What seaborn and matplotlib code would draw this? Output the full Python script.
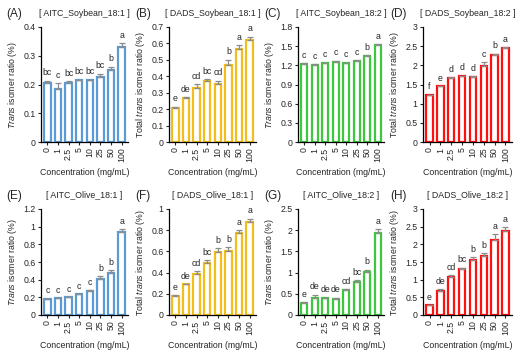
import matplotlib
matplotlib.use('Agg')
import matplotlib.pyplot as plt
import numpy as np
import pandas as pd
import seaborn as sns

conc = ['0', '1', '2.5', '5', '10', '25', '50', '100']

a_mean = [0.205, 0.185, 0.205, 0.215, 0.215, 0.225, 0.252, 0.330]
a_err = [0.008, 0.020, 0.006, 0.002, 0.002, 0.012, 0.010, 0.013]
a_sig = ['bc', 'c', 'bc', 'bc', 'bc', 'bc', 'b', 'a']

b_mean = [0.210, 0.267, 0.330, 0.373, 0.356, 0.467, 0.566, 0.622]
b_err = [0.005, 0.004, 0.022, 0.010, 0.018, 0.035, 0.022, 0.018]
b_sig = ['e', 'de', 'cd', 'bc', 'cd', 'b', 'a', 'a']

c_mean = [1.22, 1.21, 1.23, 1.26, 1.23, 1.27, 1.35, 1.52]
c_err = [0.01, 0.01, 0.01, 0.01, 0.01, 0.01, 0.01, 0.01]
c_sig = ['c', 'c', 'c', 'c', 'c', 'c', 'b', 'a']

d_mean = [1.22, 1.45, 1.67, 1.71, 1.70, 1.98, 2.27, 2.45]
d_err = [0.01, 0.01, 0.02, 0.02, 0.02, 0.10, 0.03, 0.02]
d_sig = ['f', 'e', 'd', 'd', 'd', 'c', 'b', 'a']

e_mean = [0.180, 0.190, 0.200, 0.235, 0.270, 0.410, 0.480, 0.940]
e_err = [0.005, 0.005, 0.005, 0.005, 0.010, 0.030, 0.030, 0.035]
e_sig = ['c', 'c', 'c', 'c', 'c', 'b', 'b', 'a']

f_mean = [0.180, 0.290, 0.390, 0.490, 0.595, 0.605, 0.770, 0.875]
f_err = [0.005, 0.005, 0.025, 0.025, 0.035, 0.035, 0.030, 0.035]
f_sig = ['e', 'de', 'cd', 'bc', 'b', 'b', 'a', 'a']

g_mean = [0.29, 0.41, 0.39, 0.38, 0.60, 0.77, 1.02, 1.93]
g_err = [0.02, 0.07, 0.02, 0.03, 0.02, 0.06, 0.05, 0.09]
g_sig = ['e', 'de', 'de', 'de', 'cd', 'bc', 'b', 'a']

h_mean = [0.28, 0.69, 1.07, 1.29, 1.55, 1.67, 2.11, 2.38]
h_err = [0.01, 0.04, 0.05, 0.05, 0.10, 0.08, 0.17, 0.10]
h_sig = ['e', 'de', 'cd', 'bc', 'b', 'b', 'a', 'a']

blue = '#5B9BD5'
gold = '#F2BE1E'
green = '#3CC83C'
red = '#FF1010'

trans_lbl = r'$\it{Trans}$ isomer ratio (%)'
total_lbl = r'Total $\it{trans}$ isomer ratio (%)'

panels = [
    ('(A)', '[ AITC_Soybean_18:1 ]', a_mean, a_err, a_sig, blue, 0.4, 0.1, trans_lbl),
    ('(B)', '[ DADS_Soybean_18:1 ]', b_mean, b_err, b_sig, gold, 0.7, 0.1, total_lbl),
    ('(C)', '[ AITC_Soybean_18:2 ]', c_mean, c_err, c_sig, green, 1.8, 0.3, trans_lbl),
    ('(D)', '[ DADS_Soybean_18:2 ]', d_mean, d_err, d_sig, red, 3.0, 0.5, total_lbl),
    ('(E)', '[ AITC_Olive_18:1 ]', e_mean, e_err, e_sig, blue, 1.2, 0.2, trans_lbl),
    ('(F)', '[ DADS_Olive_18:1 ]', f_mean, f_err, f_sig, gold, 1.0, 0.2, total_lbl),
    ('(G)', '[ AITC_Olive_18:2 ]', g_mean, g_err, g_sig, green, 2.5, 0.5, trans_lbl),
    ('(H)', '[ DADS_Olive_18:2 ]', h_mean, h_err, h_sig, red, 3.0, 0.5, total_lbl),
]

sns.set_style('white')
plt.rcParams['font.family'] = ['Liberation Sans', 'DejaVu Sans']
plt.rcParams['mathtext.fontset'] = 'custom'
plt.rcParams['mathtext.rm'] = 'Liberation Sans'
plt.rcParams['mathtext.it'] = 'Liberation Sans:italic'

fig = plt.figure(figsize=(5.23, 3.51), dpi=100)
W, H = 523, 351
lefts = [41, 169, 298, 423]
rights = [128, 256, 384, 512]
tag_x = [6, 135, 264, 390]
rows = [(27, 142), (209, 315)]

fs = 6.3
for i, (tag, title, mean, err, sig, color, ymax, step, ylab) in enumerate(panels):
    r, c = divmod(i, 4)
    top, bot = rows[r]
    ax = fig.add_axes([lefts[c] / W, 1 - bot / H, (rights[c] - lefts[c]) / W, (bot - top) / H])
    df = pd.DataFrame({'conc': conc, 'value': mean})
    sns.barplot(data=df, x='conc', y='value', ax=ax, fill=False, color=color,
                width=0.6, linewidth=1.6, errorbar=None, order=conc)
    for p in ax.patches:
        p.set_edgecolor(color)
        p.set_facecolor('white')
        p.set_fill(True)
    xs = np.arange(len(conc))
    ax.errorbar(xs, mean, yerr=[np.zeros(len(err)), err], fmt='none', ecolor='#8c8c8c',
                elinewidth=0.9, capsize=2, capthick=0.9)
    for x, m, e, s in zip(xs, mean, err, sig):
        ax.text(x, m + e + ymax * 0.03, s, ha='center', va='bottom', fontsize=fs)
    ax.set_ylim(0, ymax)
    ax.set_xlim(-0.6, len(conc) - 0.4)
    ax.set_yticks(np.round(np.arange(0, ymax + step / 2, step), 2))
    ax.yaxis.set_major_formatter(matplotlib.ticker.FuncFormatter(lambda v, _: f'{v:g}'))
    ax.tick_params(axis='x', rotation=90, labelsize=fs, length=2.5, width=0.8, pad=1.5, direction='out', bottom=True)
    ax.tick_params(axis='y', labelsize=fs, length=2.5, width=0.8, pad=1.5, direction='out', left=True)
    ax.set_xlabel('Concentration (mg/mL)', fontsize=fs, labelpad=4)
    ax.set_ylabel(ylab, fontsize=fs, labelpad=3)
    for side in ['top', 'right']:
        ax.spines[side].set_visible(False)
    for side in ['left', 'bottom']:
        ax.spines[side].set_color('black')
        ax.spines[side].set_linewidth(0.9)
    ax.set_title(title, fontsize=fs, pad=8)
    fig.text(tag_x[c] / W, 1 - (top - 13) / H, tag, fontsize=8.5, va='center', ha='left')

fig.savefig('out.png', dpi=100)
